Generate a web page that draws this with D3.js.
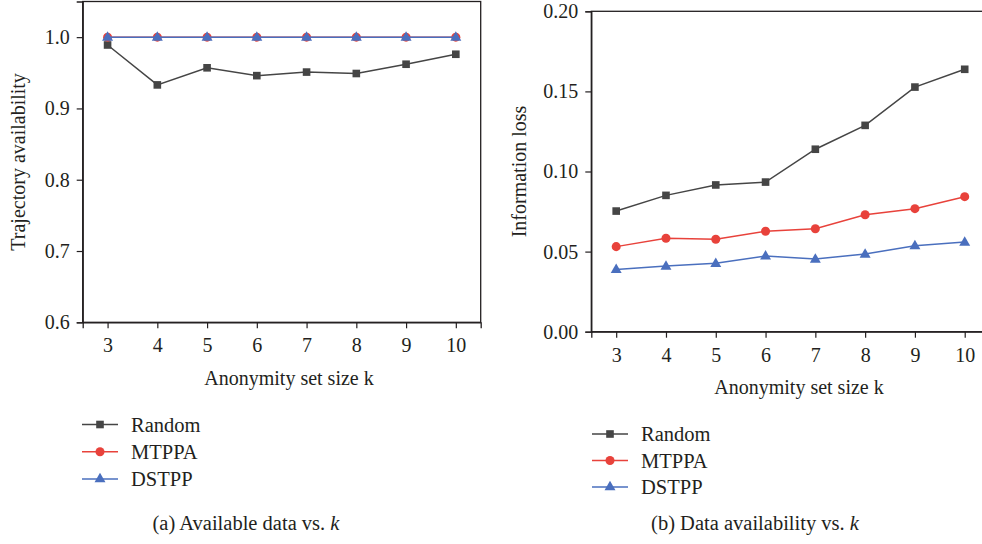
<!DOCTYPE html>
<html>
<head>
<meta charset="utf-8">
<script src="https://cdn.jsdelivr.net/npm/d3@7"></script>
<style>
  html, body { margin: 0; padding: 0; background: #fff; }
  svg { display: block; }
  text { font-family: "Liberation Serif", "DejaVu Serif", serif; fill: #231f20; }
</style>
</head>
<body>
<svg id="chart" width="982" height="544"></svg>
<script>
// Anonymity set size k
const kValues = [3, 4, 5, 6, 7, 8, 9, 10];

// (a) Trajectory availability
const availRandom = [0.989, 0.933, 0.957, 0.946, 0.951, 0.949, 0.962, 0.976];
const availMTPPA  = [1.0, 1.0, 1.0, 1.0, 1.0, 1.0, 1.0, 1.0];
const availDSTPP  = [1.0, 1.0, 1.0, 1.0, 1.0, 1.0, 1.0, 1.0];
const availTicks  = [0.6, 0.7, 0.8, 0.9, 1.0];

// (b) Information loss
const lossRandom = [0.0753, 0.0851, 0.0916, 0.0934, 0.1139, 0.1288, 0.1527, 0.1638];
const lossMTPPA  = [0.0531, 0.0583, 0.0577, 0.0627, 0.0643, 0.0730, 0.0768, 0.0843];
const lossDSTPP  = [0.0389, 0.0410, 0.0427, 0.0473, 0.0454, 0.0485, 0.0537, 0.0560];
const lossTicks  = [0.00, 0.05, 0.10, 0.15, 0.20];

const seriesNames = ["Random", "MTPPA", "DSTPP"];

const styles = {
  Random: { color: "#454545", symbol: d3.symbolSquare, size: 58 },
  MTPPA:  { color: "#e8423b", symbol: d3.symbolCircle, size: 64 },
  DSTPP:  { color: "#4a6fbe", symbol: d3.symbolTriangle, size: 52 }
};

const svg = d3.select("#chart");

function panel(opts) {
  const g = svg.append("g");
  const x = d3.scaleLinear().domain([2.5, 10.5]).range([opts.left, opts.right]);
  const y = d3.scaleLinear().domain(opts.yDomain).range([opts.bottom, opts.top]);

  // frame
  g.append("rect")
    .attr("x", opts.left).attr("y", opts.top)
    .attr("width", opts.right - opts.left).attr("height", opts.bottom - opts.top)
    .attr("fill", "none").attr("stroke", "#231f20").attr("stroke-width", 1.3);

  const xAxis = g.append("g")
    .attr("transform", `translate(0,${opts.bottom})`)
    .call(d3.axisBottom(x).tickValues(kValues).tickSize(6).tickPadding(10).tickFormat(d3.format("d")));
  const yAxis = g.append("g")
    .attr("transform", `translate(${opts.left},0)`)
    .call(d3.axisLeft(y).tickValues(opts.yTicks).tickSize(6).tickPadding(7).tickFormat(d3.format(opts.fmt)));

  [xAxis, yAxis].forEach(a => {
    a.select(".domain").attr("stroke", "#231f20").attr("stroke-width", 1.3);
    a.selectAll(".tick line").attr("stroke", "#231f20").attr("stroke-width", 1.2);
    a.selectAll(".tick text")
      .attr("font-family", '"Liberation Serif", "DejaVu Serif", serif')
      .attr("font-size", 20).attr("fill", "#231f20");
  });

  // axis titles
  g.append("text")
    .attr("x", opts.xTitleX).attr("y", opts.xTitleY)
    .attr("text-anchor", "middle").attr("dominant-baseline", "central")
    .attr("font-size", 20).text("Anonymity set size k");
  g.append("text")
    .attr("transform", `translate(${opts.yTitleX},${(opts.top + opts.bottom) / 2}) rotate(-90)`)
    .attr("text-anchor", "middle").attr("dominant-baseline", "central")
    .attr("font-size", 20).text(opts.yTitle);

  // series
  const line = d3.line().x(d => x(d.k)).y(d => y(d.v));
  seriesNames.forEach(name => {
    const st = styles[name];
    const pts = kValues.map((k, i) => ({ k, v: opts.data[name][i] }));
    g.append("path").datum(pts)
      .attr("d", line).attr("fill", "none")
      .attr("stroke", st.color).attr("stroke-width", 1.5);
    g.selectAll(null).data(pts).enter().append("path")
      .attr("d", d3.symbol().type(st.symbol).size(st.size))
      .attr("transform", d => `translate(${x(d.k)},${y(d.v) + (name === "DSTPP" ? 0.5 : 0)})`)
      .attr("fill", st.color);
  });

  // legend
  const lg = g.append("g");
  seriesNames.forEach((name, i) => {
    const st = styles[name];
    const cy = opts.legendY + i * opts.legendStep;
    lg.append("line")
      .attr("x1", opts.legendX).attr("x2", opts.legendX + 36)
      .attr("y1", cy).attr("y2", cy)
      .attr("stroke", st.color).attr("stroke-width", 1.5);
    lg.append("path")
      .attr("d", d3.symbol().type(st.symbol).size(st.size))
      .attr("transform", `translate(${opts.legendX + 18},${cy})`)
      .attr("fill", st.color);
    lg.append("text")
      .attr("x", opts.legendX + 49).attr("y", cy)
      .attr("dominant-baseline", "central")
      .attr("font-size", 20.5).text(name);
  });

  // caption
  const cap = g.append("text")
    .attr("x", opts.capX).attr("y", opts.capY)
    .attr("text-anchor", "middle").attr("dominant-baseline", "central")
    .attr("font-size", 20.5);
  cap.append("tspan").text(opts.caption + " vs. ");
  cap.append("tspan").attr("font-style", "italic").text("k");
}

panel({
  left: 82.7, right: 480.7, top: 1.5, bottom: 322.3,
  yDomain: [0.6, 1.05], yTicks: availTicks, fmt: ".1f",
  data: { Random: availRandom, MTPPA: availMTPPA, DSTPP: availDSTPP },
  xTitleX: 289, xTitleY: 378,
  yTitleX: 18, yTitle: "Trajectory availability",
  legendX: 82, legendY: 424.5, legendStep: 27.3,
  capX: 246, capY: 523, caption: "(a) Available data"
});

panel({
  left: 591.3, right: 989.6, top: 11.3, bottom: 331.7,
  yDomain: [0, 0.2], yTicks: lossTicks, fmt: ".2f",
  data: { Random: lossRandom, MTPPA: lossMTPPA, DSTPP: lossDSTPP },
  xTitleX: 799, xTitleY: 387,
  yTitleX: 519, yTitle: "Information loss",
  legendX: 592, legendY: 434, legendStep: 26.5,
  capX: 755, capY: 523, caption: "(b) Data availability"
});
</script>
</body>
</html>
